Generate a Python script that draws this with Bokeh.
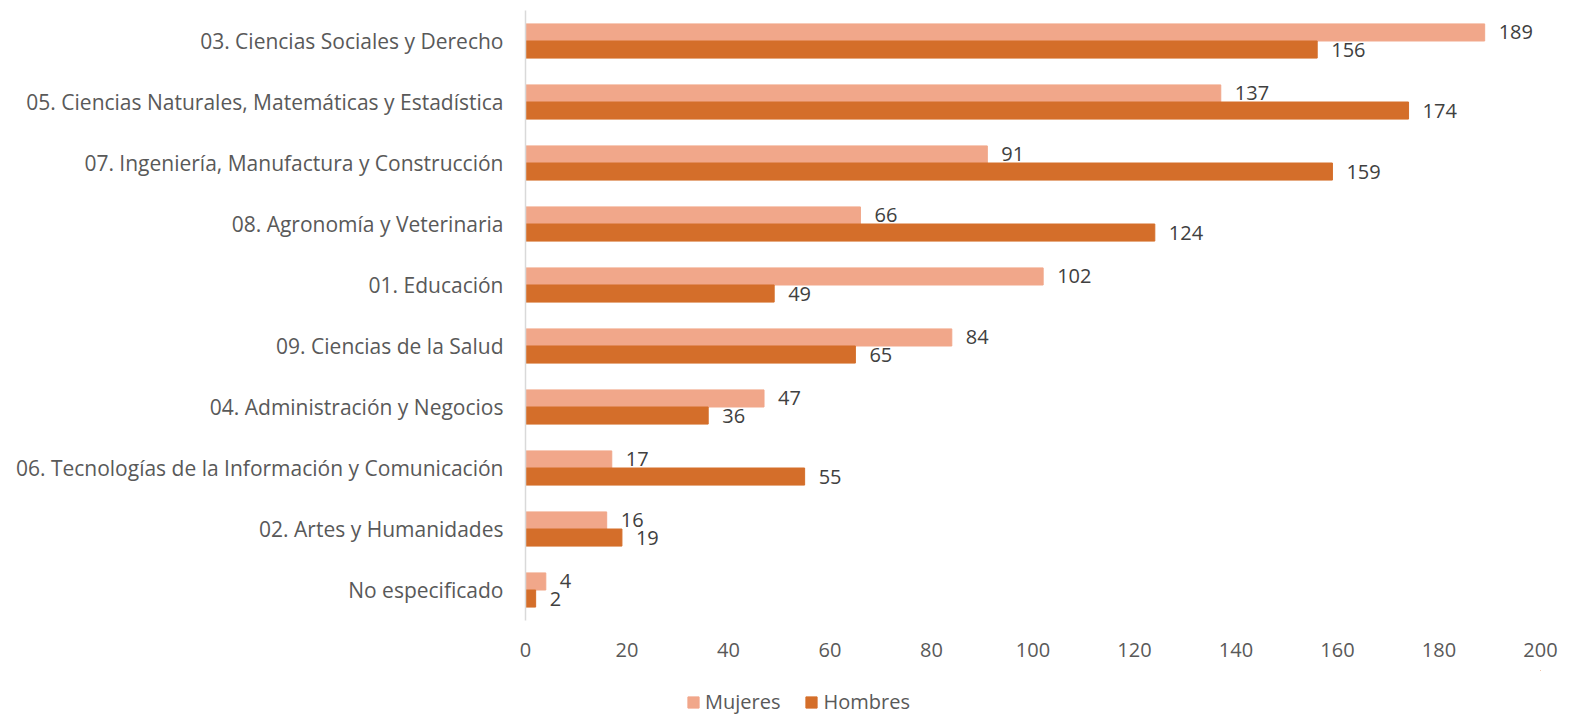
from bokeh.plotting import figure
from bokeh.models import FactorRange, Range1d, FixedTicker, Legend, LegendItem, ColumnDataSource
from bokeh.transform import dodge
from bokeh.layouts import column
from bokeh.core.properties import value
from bokeh.embed import file_html
from bokeh.resources import INLINE

categories = [
    "03. Ciencias Sociales y Derecho",
    "05. Ciencias Naturales, Matemáticas y Estadística",
    "07. Ingeniería, Manufactura y Construcción",
    "08. Agronomía y Veterinaria",
    "01. Educación",
    "09. Ciencias de la Salud",
    "04. Administración y Negocios",
    "06. Tecnologías de la Información y Comunicación",
    "02. Artes y Humanidades",
    "No especificado",
]
mujeres = [189, 137, 91, 66, 102, 84, 47, 17, 16, 4]
hombres = [156, 174, 159, 124, 49, 65, 36, 55, 19, 2]
x_ticks = [0, 20, 40, 60, 80, 100, 120, 140, 160, 180, 200]
series_names = ["Mujeres", "Hombres"]

FONT = "Open Sans"
TEXT = "#595959"
C_M = "#F1A78A"
C_H = "#D46E2A"

src = ColumnDataSource(dict(
    cat=categories, m=mujeres, h=hombres,
    ml=[str(v) for v in mujeres], hl=[str(v) for v in hombres],
))

p = figure(
    width=1566, height=670,
    y_range=FactorRange(factors=list(reversed(categories))),
    x_range=Range1d(0, 200),
    output_backend="svg", toolbar_location=None,
    min_border_left=525, min_border_right=26, min_border_top=10, min_border_bottom=50,
)
p.outline_line_color = None
p.background_fill_color = "white"
p.border_fill_color = "white"
p.grid.visible = False

bh = 0.28
p.hbar(y=dodge("cat", bh / 2, range=p.y_range), right="m", left=0, height=bh,
       color=C_M, source=src)
p.hbar(y=dodge("cat", -bh / 2, range=p.y_range), right="h", left=0, height=bh,
       color=C_H, source=src)

p.text(x="m", y=dodge("cat", bh / 2, range=p.y_range), text="ml", source=src,
       x_offset=14, text_baseline="middle", text_align="left",
       text_font=value(FONT), text_font_size="20px", text_color="#404040")
p.text(x="h", y=dodge("cat", -bh / 2, range=p.y_range), text="hl", source=src,
       x_offset=14, text_baseline="middle", text_align="left",
       text_font=value(FONT), text_font_size="20px", text_color="#404040")

xa = p.xaxis[0]
xa.ticker = FixedTicker(ticks=x_ticks)
xa.axis_line_color = None
xa.major_tick_line_color = None
xa.minor_tick_line_color = None
xa.major_label_text_font = FONT
xa.major_label_text_font_size = "20px"
xa.major_label_text_color = TEXT
xa.major_label_standoff = 16

ya = p.yaxis[0]
ya.axis_line_color = "#D9D9D9"
ya.axis_line_width = 1.5
ya.major_tick_line_color = None
ya.minor_tick_line_color = None
ya.major_label_text_font = FONT
ya.major_label_text_font_size = "21px"
ya.major_label_text_color = TEXT
ya.major_label_standoff = 16

# legend strip below the chart
p2 = figure(width=1566, height=46, x_range=Range1d(0, 1), y_range=Range1d(0, 1),
            output_backend="svg", toolbar_location=None,
            min_border_left=0, min_border_right=0, min_border_top=0, min_border_bottom=0)
p2.axis.visible = False
p2.grid.visible = False
p2.outline_line_color = None
p2.border_fill_color = "white"
lm = p2.hbar(y=[5], right=[6], left=[5], height=0.1, color=C_M)
lh = p2.hbar(y=[5], right=[6], left=[5], height=0.1, color=C_H)
legend = Legend(items=[LegendItem(label=series_names[0], renderers=[lm]),
                       LegendItem(label=series_names[1], renderers=[lh])],
                orientation="horizontal", location=(161, 1),
                label_text_font=FONT, label_text_font_size="20px",
                label_text_color=TEXT, glyph_width=14, glyph_height=14,
                spacing=24, label_standoff=5, padding=0, margin=0,
                border_line_color=None, background_fill_alpha=0)
p2.add_layout(legend, "center")

layout = column(p, p2, spacing=0)
open("out.html", "w").write(file_html(layout, INLINE))
